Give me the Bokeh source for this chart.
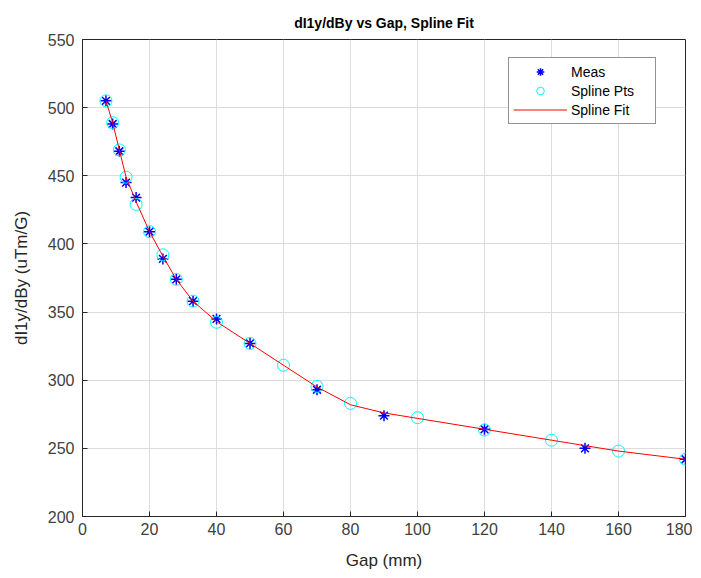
from bokeh.plotting import figure
from bokeh.models import Legend, LegendItem, Range1d, FixedTicker
from bokeh.embed import file_html
from bokeh.resources import INLINE

# Measured data
meas_gap = [7, 9, 11, 13, 16, 20, 24, 28, 33, 40, 50, 70, 90, 120, 150, 180]
meas_val = [505, 488, 468, 445, 434, 409, 389, 374, 358, 345, 327, 293, 274, 264, 250, 242]

# Spline points
spl_gap = [7, 9, 11, 13, 16, 20, 24, 28, 33, 40, 50, 60, 70, 80, 100, 120, 140, 160, 180]
spl_val = [505, 489, 469, 449, 429, 409, 392, 374, 358, 342.5, 327, 311, 295.5, 283, 272.5, 263.5, 256, 248, 242]

# Spline fit curve
fit_gap = [7, 9, 11, 13, 16, 20, 24, 28, 33, 40, 50, 60, 70, 80, 90, 100, 120, 140, 150, 160, 180]
fit_val = [505, 489, 469, 449, 431, 409, 391, 374, 358, 343, 327, 311, 295, 282, 276, 272, 264, 256, 252, 248, 242]

x_ticks = [0, 20, 40, 60, 80, 100, 120, 140, 160, 180]
y_ticks = [200, 250, 300, 350, 400, 450, 500, 550]

AX = "#262626"
FONT = "Liberation Sans"

p = figure(width=692, height=574, output_backend="svg", toolbar_location=None,
           x_range=Range1d(0, 180), y_range=Range1d(200, 550),
           min_border_left=82, min_border_right=7, min_border_top=39, min_border_bottom=58,
           title="dI1y/dBy vs Gap, Spline Fit")

p.title.align = "center"
p.title.text_font = FONT
p.title.text_font_size = "14px"
p.title.text_font_style = "bold"
p.title.text_color = "#000000"
p.title.standoff = 17

p.outline_line_color = AX
p.outline_line_width = 1
p.background_fill_color = "white"
p.border_fill_color = "white"

p.xaxis.ticker = FixedTicker(ticks=x_ticks)
p.yaxis.ticker = FixedTicker(ticks=y_ticks)
for ax in (p.xaxis[0], p.yaxis[0]):
    ax.axis_line_color = AX
    ax.major_tick_line_color = AX
    ax.major_tick_in = 5
    ax.major_tick_out = 0
    ax.minor_tick_line_color = None
    ax.major_label_text_font = FONT
    ax.major_label_text_font_size = "16px"
    ax.major_label_text_color = "#404040"
    ax.axis_label_text_font = FONT
    ax.axis_label_text_font_size = "17px"
    ax.axis_label_text_font_style = "normal"
    ax.axis_label_text_color = AX
p.xaxis.axis_label = "Gap (mm)"
p.yaxis.axis_label = "dI1y/dBy (uTm/G)"
p.xaxis.major_label_standoff = 6
p.yaxis.major_label_standoff = 8
p.xaxis.axis_label_standoff = 13
p.yaxis.axis_label_standoff = 14

p.grid.grid_line_color = "#dcdcdc"
p.grid.grid_line_width = 1

r_meas = p.scatter(meas_gap, meas_val, marker="asterisk", size=11,
                   line_color="#0000ff", line_width=1.5)
r_spl = p.scatter(spl_gap, spl_val, marker="circle", size=12,
                  line_color="#00ffff", fill_color=None, line_width=1)
r_fit = p.line(fit_gap, fit_val, line_color="#ff0000", line_width=1)

legend = Legend(items=[LegendItem(label="Meas", renderers=[r_meas]),
                       LegendItem(label="Spline Pts", renderers=[r_spl]),
                       LegendItem(label="Spline Fit", renderers=[r_fit])],
                location=(426, 392))
legend.label_text_font = FONT
legend.label_text_font_size = "14px"
legend.label_text_color = "#000000"
legend.glyph_width = 54
legend.glyph_height = 19
legend.label_height = 19
legend.label_width = 80
legend.spacing = 0
legend.padding = 4
legend.margin = 0
legend.label_standoff = 4
legend.border_line_color = AX
legend.border_line_width = 1
legend.background_fill_alpha = 1
p.add_layout(legend, "center")

open("out.html", "w").write(file_html(p, INLINE))
